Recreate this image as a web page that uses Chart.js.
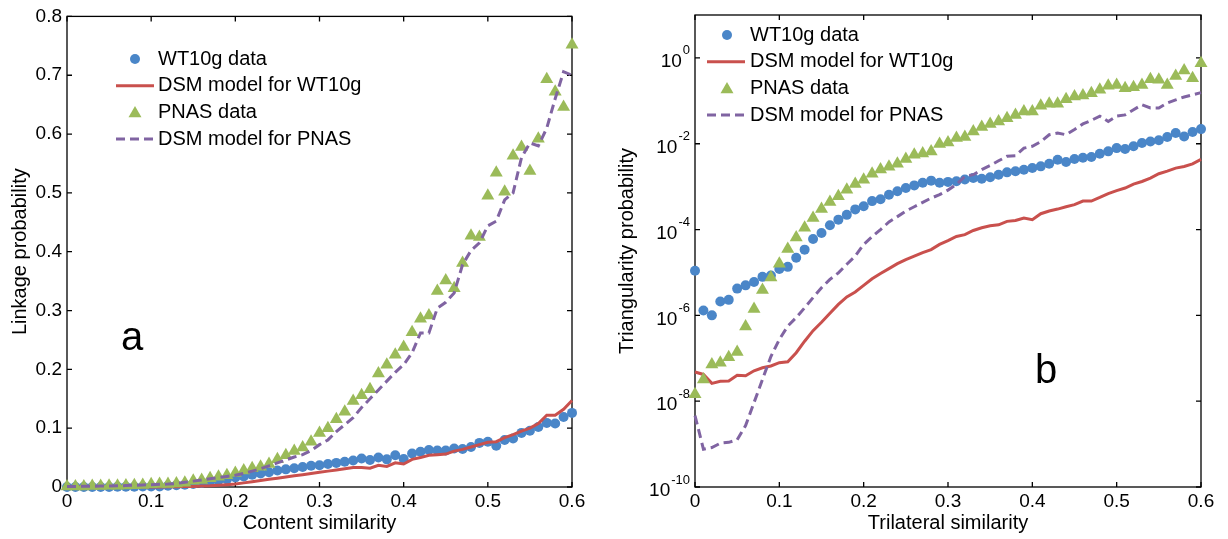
<!DOCTYPE html>
<html>
<head>
<meta charset="utf-8">
<script src="https://cdn.jsdelivr.net/npm/chart.js@4.4.1/dist/chart.umd.min.js"></script>
<style>
  html, body { margin: 0; padding: 0; background: #fff; }
  #wrap { position: relative; width: 1228px; height: 539px; overflow: hidden; }
  canvas { position: absolute; top: 0; }
  #left { left: 0; }
  #right { left: 614px; }
</style>
</head>
<body>
<div id="wrap">
  <canvas id="left" width="614" height="539"></canvas>
  <canvas id="right" width="614" height="539"></canvas>
</div>
<script>
// similarity grid shared by both panels
const simGrid = [0, 0.01, 0.02, 0.03, 0.04, 0.05, 0.06, 0.07, 0.08, 0.09, 0.1,
  0.11, 0.12, 0.13, 0.14, 0.15, 0.16, 0.17, 0.18, 0.19, 0.2,
  0.21, 0.22, 0.23, 0.24, 0.25, 0.26, 0.27, 0.28, 0.29, 0.3,
  0.31, 0.32, 0.33, 0.34, 0.35, 0.36, 0.37, 0.38, 0.39, 0.4,
  0.41, 0.42, 0.43, 0.44, 0.45, 0.46, 0.47, 0.48, 0.49, 0.5,
  0.51, 0.52, 0.53, 0.54, 0.55, 0.56, 0.57, 0.58, 0.59, 0.6];

const xTickValues = [0, 0.1, 0.2, 0.3, 0.4, 0.5, 0.6];
const linkTickValues = [0, 0.1, 0.2, 0.3, 0.4, 0.5, 0.6, 0.7, 0.8];
const triTickExponents = [-10, -8, -6, -4, -2, 0];

const seriesNames = ["WT10g data", "DSM model for WT10g", "PNAS data", "DSM model for PNAS"];

// panel a: linkage probability
const linkWt10g = [0, 0, 0, 0, 0, 0, 0.0005, 0.0005, 0.0005, 0.001, 0.001,
  0.001, 0.002, 0.003, 0.004, 0.005, 0.007, 0.009, 0.011, 0.013, 0.016,
  0.018, 0.021, 0.023, 0.025, 0.028, 0.030, 0.032, 0.034, 0.036, 0.037,
  0.039, 0.041, 0.043, 0.045, 0.0486, 0.046, 0.050, 0.047, 0.054, 0.0475,
  0.057, 0.060, 0.063, 0.062, 0.062, 0.0655, 0.0645, 0.068, 0.075, 0.077,
  0.070, 0.080, 0.0825, 0.092, 0.0955, 0.102, 0.109, 0.108, 0.119, 0.126];
const linkWt10gModel = [0, 0, 0, 0, 0, 0, 0, 0, 0, 0, 0,
  0.0002, 0.0003, 0.0005, 0.0007, 0.001, 0.0015, 0.002, 0.003, 0.004, 0.005,
  0.007, 0.009, 0.011, 0.013, 0.015, 0.017, 0.019, 0.021, 0.023, 0.025,
  0.027, 0.029, 0.031, 0.033, 0.033, 0.032, 0.037, 0.035, 0.041, 0.039,
  0.047, 0.050, 0.054, 0.055, 0.056, 0.061, 0.064, 0.068, 0.072, 0.076,
  0.077, 0.084, 0.089, 0.095, 0.100, 0.108, 0.122, 0.122, 0.132, 0.147];
const linkPnas = [0.001, 0.001, 0.001, 0.0015, 0.0015, 0.002, 0.002, 0.0025, 0.003, 0.0034, 0.0045,
  0.005, 0.005, 0.006, 0.0073, 0.0107, 0.012, 0.0147, 0.0175, 0.020, 0.024,
  0.028, 0.032, 0.0345, 0.039, 0.047, 0.054, 0.061, 0.067, 0.077, 0.092,
  0.100, 0.115, 0.128, 0.146, 0.156, 0.166, 0.193, 0.208, 0.225, 0.238,
  0.263, 0.286, 0.2915, 0.333, 0.351, 0.338, 0.381, 0.427, 0.425, 0.495,
  0.534, 0.502, 0.563, 0.578, 0.537, 0.592, 0.693, 0.672, 0.646, 0.752];
const linkPnasModel = [0.001, 0.001, 0.0012, 0.0014, 0.0016, 0.0018, 0.002, 0.0025, 0.003, 0.0035, 0.004,
  0.0045, 0.005, 0.006, 0.008, 0.010, 0.012, 0.014, 0.016, 0.018, 0.020,
  0.023, 0.027, 0.031, 0.036, 0.041, 0.046, 0.051, 0.055, 0.062, 0.072,
  0.080, 0.094, 0.106, 0.118, 0.135, 0.150, 0.165, 0.180, 0.195, 0.208,
  0.228, 0.262, 0.262, 0.304, 0.314, 0.330, 0.378, 0.402, 0.415, 0.444,
  0.452, 0.488, 0.500, 0.560, 0.585, 0.580, 0.610, 0.660, 0.706, 0.700];

// panel b: triangularity probability
const triWt10g = [1.1e-5, 1.3e-6, 1.0e-6, 2.1e-6, 2.3e-6, 4.2e-6, 5.0e-6, 6.0e-6, 7.9e-6, 8.5e-6, 1.2e-5,
  1.35e-5, 2.2e-5, 3.4e-5, 6.0e-5, 8.3e-5, 1.26e-4, 1.7e-4, 2.2e-4, 2.95e-4, 3.5e-4,
  4.6e-4, 5.1e-4, 6.5e-4, 7.8e-4, 9.3e-4, 1.07e-3, 1.23e-3, 1.38e-3, 1.23e-3, 1.29e-3,
  1.33e-3, 1.46e-3, 1.59e-3, 1.53e-3, 1.65e-3, 1.9e-3, 2.15e-3, 2.28e-3, 2.48e-3, 2.72e-3,
  2.97e-3, 3.43e-3, 4.25e-3, 3.75e-3, 4.4e-3, 4.72e-3, 4.9e-3, 5.85e-3, 6.64e-3, 7.9e-3,
  7.5e-3, 8.7e-3, 1.04e-2, 1.13e-2, 1.2e-2, 1.43e-2, 1.77e-2, 1.48e-2, 1.87e-2, 2.19e-2];
const triWt10gModel = [4.8e-8, 4.2e-8, 2.6e-8, 2.9e-8, 2.95e-8, 4.0e-8, 3.9e-8, 5.1e-8, 6.0e-8, 6.6e-8, 7.9e-8,
  8.3e-8, 1.35e-7, 2.5e-7, 4.4e-7, 6.9e-7, 1.12e-6, 1.8e-6, 2.7e-6, 3.5e-6, 5.0e-6,
  7.1e-6, 9.5e-6, 1.23e-5, 1.6e-5, 2.0e-5, 2.4e-5, 2.9e-5, 3.4e-5, 4.5e-5, 5.5e-5,
  6.9e-5, 7.6e-5, 9.5e-5, 1.1e-4, 1.23e-4, 1.29e-4, 1.55e-4, 1.62e-4, 1.86e-4, 1.7e-4,
  2.34e-4, 2.7e-4, 3.0e-4, 3.4e-4, 3.8e-4, 4.6e-4, 4.6e-4, 5.6e-4, 6.9e-4, 8.1e-4,
  9.3e-4, 1.15e-3, 1.32e-3, 1.58e-3, 2.0e-3, 2.3e-3, 2.7e-3, 2.95e-3, 3.4e-3, 4.3e-3];
const triPnas = [1.45e-8, 3.2e-8, 7.2e-8, 7.9e-8, 1.05e-7, 1.4e-7, 5.5e-7, 1.4e-6, 3.9e-6, 7.6e-6, 1.6e-5,
  3.5e-5, 6.5e-5, 1.1e-4, 1.86e-4, 3.0e-4, 4.4e-4, 6.0e-4, 8.5e-4, 1.15e-3, 1.45e-3,
  2.0e-3, 2.5e-3, 2.9e-3, 3.4e-3, 4.4e-3, 5.5e-3, 5.9e-3, 6.6e-3, 9.8e-3, 1.07e-2,
  1.36e-2, 1.43e-2, 1.94e-2, 2.44e-2, 2.87e-2, 3.3e-2, 3.95e-2, 4.7e-2, 5.65e-2, 5.65e-2,
  7.65e-2, 8.5e-2, 8.5e-2, 0.109, 0.126, 0.133, 0.151, 0.180, 0.223, 0.235,
  0.197, 0.208, 0.235, 0.319, 0.308, 0.235, 0.381, 0.507, 0.336, 0.752];
const triPnasModel = [4.6e-9, 7.6e-10, 8.3e-10, 1.05e-9, 1.1e-9, 1.26e-9, 2.7e-9, 9.3e-9, 3.2e-8, 1.1e-7, 2.75e-7,
  5.6e-7, 8.9e-7, 1.5e-6, 2.6e-6, 4.4e-6, 6.9e-6, 9.8e-6, 1.55e-5, 2.4e-5, 4.5e-5,
  6.8e-5, 1.0e-4, 1.5e-4, 2.0e-4, 2.7e-4, 3.4e-4, 4.3e-4, 5.4e-4, 6.5e-4, 8.3e-4,
  1.12e-3, 1.74e-3, 1.9e-3, 2.5e-3, 3.1e-3, 4.0e-3, 5.1e-3, 5.25e-3, 7.9e-3, 8.7e-3,
  1.12e-2, 1.62e-2, 1.78e-2, 1.62e-2, 2.14e-2, 2.9e-2, 3.5e-2, 4.4e-2, 3.3e-2, 4.4e-2,
  4.7e-2, 6.2e-2, 8.1e-2, 6.8e-2, 6.8e-2, 8.9e-2, 0.105, 0.123, 0.138, 0.155];

const FONT = '"Liberation Sans", Arial, Helvetica, sans-serif';
const BLUE = "#4a86c8", RED = "#c9504d", GREEN = "#9bbb59", PURPLE = "#8064a2";

const pts = (vals) => simGrid.map((x, i) => ({ x: x, y: vals[i] }));

function buildDatasets(blue, red, green, purple) {
  return [
    { label: seriesNames[0], data: pts(blue), showLine: false, pointStyle: "circle",
      pointRadius: 5, backgroundColor: BLUE, borderColor: BLUE, pointBorderWidth: 0, order: 3 },
    { label: seriesNames[1], data: pts(red), showLine: true, pointRadius: 0,
      borderColor: RED, borderWidth: 3, order: 2 },
    { label: seriesNames[2], data: pts(green), showLine: false, pointStyle: "triangle",
      pointRadius: 7.5, backgroundColor: GREEN, borderColor: GREEN, pointBorderWidth: 0, order: 1 },
    { label: seriesNames[3], data: pts(purple), showLine: true, pointRadius: 0,
      borderColor: PURPLE, borderWidth: 3, borderDash: [9, 5], order: 0 },
  ];
}

function drawMark(ctx, style, x, y, r, color) {
  ctx.fillStyle = color;
  ctx.beginPath();
  if (style === "triangle") {
    ctx.moveTo(x, y - r);
    ctx.lineTo(x + r * 0.866, y + r / 2);
    ctx.lineTo(x - r * 0.866, y + r / 2);
    ctx.closePath();
  } else {
    ctx.arc(x, y, r, 0, Math.PI * 2);
  }
  ctx.fill();
}

// box round the plot with inward ticks on all four sides
const framePlugin = {
  id: "frame",
  beforeDatasetsDraw(chart, args, o) {
    const { ctx, chartArea: a } = chart;
    const x = chart.scales.x, y = chart.scales.y;
    ctx.save();
    ctx.strokeStyle = "#000";
    ctx.lineWidth = 1.3;
    ctx.strokeRect(a.left, a.top, a.right - a.left, a.bottom - a.top);
    ctx.beginPath();
    o.xTicks.forEach(v => {
      const px = x.getPixelForValue(v);
      ctx.moveTo(px, a.bottom); ctx.lineTo(px, a.bottom - 5);
      ctx.moveTo(px, a.top); ctx.lineTo(px, a.top + 5);
    });
    o.yTicks.forEach(v => {
      const py = y.getPixelForValue(v);
      ctx.moveTo(a.left, py); ctx.lineTo(a.left + 5, py);
      ctx.moveTo(a.right, py); ctx.lineTo(a.right - 5, py);
    });
    ctx.stroke();
    ctx.restore();
  }
};

// legend inside the plot, plus the panel letter and power-of-ten labels
const extrasPlugin = {
  id: "extras",
  afterDraw(chart, args, o) {
    const ctx = chart.ctx;
    ctx.save();
    ctx.font = "20px " + FONT;
    ctx.textBaseline = "middle";
    ctx.textAlign = "left";
    chart.data.datasets.forEach((ds, i) => {
      const y = o.key.y + i * o.key.dy;
      if (ds.showLine) {
        ctx.strokeStyle = ds.borderColor;
        ctx.lineWidth = ds.borderWidth;
        ctx.setLineDash(ds.borderDash || []);
        ctx.beginPath();
        ctx.moveTo(o.key.x1, y);
        ctx.lineTo(o.key.x2, y);
        ctx.stroke();
        ctx.setLineDash([]);
      } else {
        drawMark(ctx, ds.pointStyle, o.key.mx, ds.pointStyle === "triangle" ? y + 1 : y, ds.pointRadius, ds.backgroundColor);
      }
      ctx.fillStyle = "#000";
      ctx.fillText(ds.label, o.key.tx, y);
    });

    ctx.font = "40px " + FONT;
    ctx.textBaseline = "alphabetic";
    ctx.fillText(o.letter.text, o.letter.x, o.letter.y);

    if (o.powers) {
      const a = chart.chartArea, ys = chart.scales.y;
      ctx.textAlign = "right";
      ctx.textBaseline = "middle";
      o.powers.forEach(e => {
        const py = ys.getPixelForValue(Math.pow(10, e));
        const ex = String(e);
        ctx.font = "13px " + FONT;
        const right = a.left - 5;
        ctx.fillText(ex, right, py - 7);
        const w = ctx.measureText(ex).width;
        ctx.font = "19px " + FONT;
        ctx.fillText("10", right - w - 1, py + 4);
      });
    }
    ctx.restore();
  }
};

function xAxis(title) {
  return {
    type: "linear", min: 0, max: 0.6,
    grid: { display: false, drawTicks: false },
    border: { display: false },
    ticks: { stepSize: 0.1, color: "#000", font: { family: FONT, size: 19 }, padding: 3, maxRotation: 0 },
    title: { display: true, text: title, color: "#000", font: { family: FONT, size: 20 }, padding: { top: 0, bottom: 4 } },
    afterFit: s => { s.height = 52; }
  };
}

const common = {
  responsive: false,
  animation: false,
  events: [],
  elements: { line: { tension: 0 } },
};

new Chart(document.getElementById("left"), {
  type: "line",
  data: { datasets: buildDatasets(linkWt10g, linkWt10gModel, linkPnas, linkPnasModel) },
  options: Object.assign({}, common, {
    layout: { padding: { left: 0, top: 15, right: 42, bottom: 0 } },
    datasets: { line: { clip: false } },
    scales: {
      x: xAxis("Content similarity"),
      y: {
        type: "linear", min: 0, max: 0.8,
        grid: { display: false, drawTicks: false },
        border: { display: false },
        ticks: { stepSize: 0.1, color: "#000", font: { family: FONT, size: 19 }, padding: 5 },
        title: { display: true, text: "Linkage probability", color: "#000", font: { family: FONT, size: 20 }, padding: { top: 8, bottom: 0 } },
        afterFit: s => { s.width = 67; }
      }
    },
    plugins: {
      legend: { display: false },
      tooltip: { enabled: false },
      frame: { xTicks: xTickValues, yTicks: linkTickValues },
      extras: {
        key: { mx: 135, x1: 116, x2: 154, tx: 158, y: 59, dy: 26.7 },
        letter: { text: "a", x: 121, y: 350 }
      }
    }
  }),
  plugins: [framePlugin, extrasPlugin]
});

new Chart(document.getElementById("right"), {
  type: "line",
  data: { datasets: buildDatasets(triWt10g, triWt10gModel, triPnas, triPnasModel) },
  options: Object.assign({}, common, {
    layout: { padding: { left: 0, top: 15, right: 27, bottom: 0 } },
    datasets: { line: { clip: false } },
    scales: {
      x: xAxis("Trilateral similarity"),
      y: {
        type: "logarithmic", min: 1e-10, max: 10,
        grid: { display: false, drawTicks: false },
        border: { display: false },
        ticks: { display: false },
        title: { display: true, text: "Triangularity probability", color: "#000", font: { family: FONT, size: 20 }, padding: { top: 1, bottom: 0 } },
        afterFit: s => { s.width = 81; }
      }
    },
    plugins: {
      legend: { display: false },
      tooltip: { enabled: false },
      frame: { xTicks: xTickValues, yTicks: triTickExponents.map(e => Math.pow(10, e)) },
      extras: {
        key: { mx: 113, x1: 93, x2: 131, tx: 136, y: 35, dy: 26.7 },
        letter: { text: "b", x: 421, y: 383 },
        powers: triTickExponents
      }
    }
  }),
  plugins: [framePlugin, extrasPlugin]
});
</script>
</body>
</html>
